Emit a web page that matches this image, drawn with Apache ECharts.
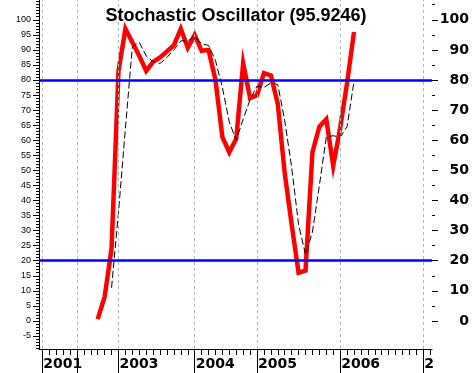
<!DOCTYPE html>
<html><head><meta charset="utf-8">
<script src="https://cdn.jsdelivr.net/npm/echarts@6/dist/echarts.min.js"></script>
<style>html,body{margin:0;padding:0;background:#fff}#c{width:472px;height:373px}</style>
</head><body><div id="c"></div>
<script>
const titleText = 'Stochastic Oscillator (95.9246)';
// year boundaries on the period axis (one period per data point)
const yearLabels = ['2001', '', '2003', '2004', '2005', '2006', '2'];
const yearPos = [0, 5, 11, 22, 31, 43, 55];
const leftLabels = [-5, 0, 5, 10, 15, 20, 25, 30, 35, 40, 45, 50, 55, 60, 65, 70, 75, 80, 85, 90, 95, 100];
const rightLabels = [0, 10, 20, 30, 40, 50, 60, 70, 80, 90, 100];
const rightMinorTicks = [5, 15, 25, 35, 45, 55, 65, 75, 85, 95, 105];
const levelLines = [80, 20];
// %K (red) starting at period 8
const kStart = 8;
const kValues = [0.6, 8, 24, 83, 97, 92.5, 88, 83, 86, 87.5, 89.5, 91.6, 97, 90.7, 95, 89.7, 90, 80, 61, 56, 60.5, 85.5, 74, 75, 82.3, 81.5, 72, 49, 32, 16, 16.7, 56, 64.5, 67, 51.5, 64, 79, 95.92];
// %D (black dashed) starting at period 10
const dStart = 10;
const dValues = [11, 36, 64, 91, 92.5, 88, 86, 85.5, 87.5, 90, 93, 93, 94.5, 92, 91.5, 86.5, 77.5, 66, 60, 67, 73.5, 78, 77.5, 79, 78.5, 66.5, 51, 32, 22, 29.5, 45, 61, 61.5, 61, 64.5, 79.5];

const periodTicks = [];
for (let i = 0; i <= 56; i++) periodTicks.push(i);
const leftMinorTicks = [];
for (let v = -9; v <= 106; v++) leftMinorTicks.push(v);

const kData = kValues.map((v, i) => [kStart + i, v]);
const dData = dValues.map((v, i) => [dStart + i, v]);

const X_MIN = -0.475, X_MAX = 56.26, Y_MIN = -9.32, Y_MAX = 106.56;

const chart = echarts.init(document.getElementById('c'), null, {renderer: 'canvas'});
const yBase = {type: 'value', min: Y_MIN, max: Y_MAX, splitLine: {show: false}};
chart.setOption({
  animation: false,
  backgroundColor: '#fff',
  title: {
    text: titleText, left: 'center', top: 2,
    textStyle: {fontFamily: 'Liberation Sans', fontWeight: 'bold', fontSize: 18, color: '#000'}
  },
  grid: {left: 39, right: 39, top: 0, bottom: 24, containLabel: false},
  xAxis: [
    {
      type: 'value', min: X_MIN, max: X_MAX, position: 'bottom',
      splitLine: {show: false},
      axisLine: {show: true, onZero: false, lineStyle: {color: '#000', width: 1}},
      axisTick: {show: true, customValues: yearPos, length: 24, lineStyle: {color: '#000', width: 1}},
      axisLabel: {
        show: true, customValues: yearPos, align: 'left', margin: 8, padding: [0, 0, 0, 1],
        fontFamily: 'DejaVu Sans', fontWeight: 'bold', fontSize: 14, color: '#000',
        formatter: v => { const i = yearPos.indexOf(Math.round(v)); return i >= 0 ? yearLabels[i] : ''; }
      }
    },
    {
      type: 'value', min: X_MIN, max: X_MAX, position: 'bottom',
      splitLine: {show: false},
      axisLine: {show: false, onZero: false},
      axisTick: {show: true, customValues: periodTicks, length: 6, lineStyle: {color: '#000', width: 1}},
      axisLabel: {show: false}
    }
  ],
  yAxis: [
    Object.assign({}, yBase, {
      position: 'left',
      axisLine: {show: true, onZero: false, lineStyle: {color: '#000', width: 1}},
      axisTick: {show: true, customValues: leftLabels, length: 6, lineStyle: {color: '#000'}},
      axisLabel: {show: true, customValues: leftLabels, margin: 8, fontFamily: 'Liberation Sans', fontSize: 9, color: '#000'}
    }),
    Object.assign({}, yBase, {
      position: 'left',
      axisLine: {show: false, onZero: false},
      axisTick: {show: true, customValues: leftMinorTicks, length: 3, lineStyle: {color: '#000'}},
      axisLabel: {show: false}
    }),
    Object.assign({}, yBase, {
      position: 'right',
      axisLine: {show: false, onZero: false},
      axisTick: {show: true, customValues: rightLabels, length: 6, lineStyle: {color: '#000'}},
      axisLabel: {show: true, customValues: rightLabels, align: 'right', margin: 37,
        fontFamily: 'DejaVu Sans', fontWeight: 'bold', fontSize: 14, color: '#000'}
    }),
    Object.assign({}, yBase, {
      position: 'right',
      axisLine: {show: false, onZero: false},
      axisTick: {show: true, customValues: rightMinorTicks, length: 3, lineStyle: {color: '#000'}},
      axisLabel: {show: false}
    })
  ],
  series: [
    {
      type: 'line', data: [], z: 1, silent: true,
      markLine: {
        silent: true, symbol: 'none', label: {show: false}, animation: false,
        data: yearPos.map(p => ({xAxis: p, lineStyle: {color: '#b4b4b4', width: 1, type: [3, 3]}}))
          .concat(levelLines.map(v => ({yAxis: v, lineStyle: {color: '#0000ff', width: 2.5, type: 'solid'}})))
      }
    },
    {
      name: '%K', type: 'line', data: kData, z: 3, symbol: 'none', silent: true,
      lineStyle: {color: '#ff0000', width: 4.5, join: 'miter'}
    },
    {
      name: '%D', type: 'line', data: dData, z: 4, symbol: 'none', silent: true,
      lineStyle: {color: '#000', width: 1, type: [7, 3]}
    }
  ]
});
</script></body></html>
